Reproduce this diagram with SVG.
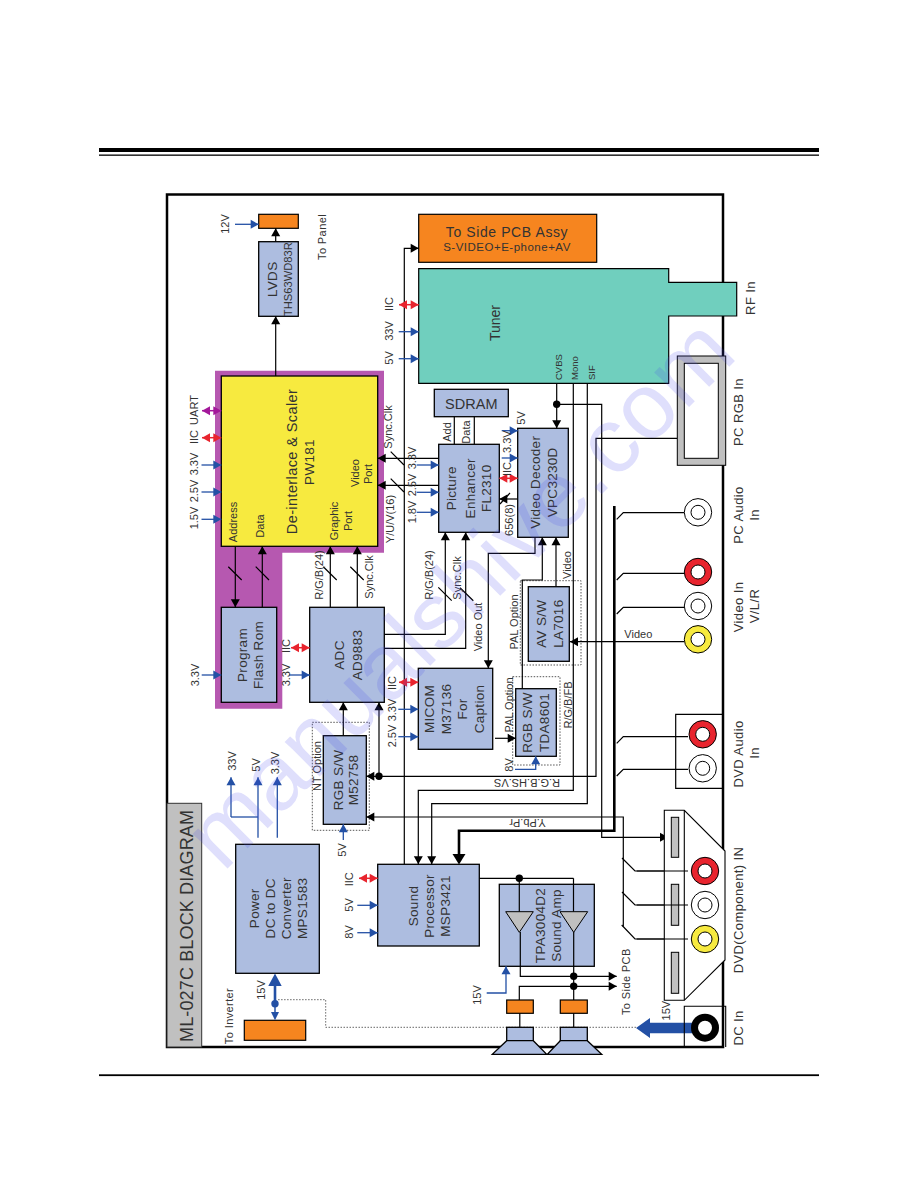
<svg xmlns="http://www.w3.org/2000/svg" width="918" height="1188" viewBox="0 0 918 1188">
<style>
text{font-family:"Liberation Sans",Arial,sans-serif;fill:#333;text-anchor:middle}
.s{font-size:11px}.m{font-size:13.5px;letter-spacing:.3px}.xs{font-size:9.5px}.l{font-size:13px;letter-spacing:.4px}
.st{text-anchor:start}
.box{fill:#adbde0;stroke:#000;stroke-width:1.3}
.or{fill:#f6851f;stroke:#000;stroke-width:1.2}
.w{fill:none;stroke:#000;stroke-width:1.2}
.a{marker-end:url(#k)}
.bl{fill:none;stroke:#2350a5;stroke-width:1.3;marker-end:url(#u)}
.re{fill:none;stroke:#e8242e;stroke-width:1.5;marker-end:url(#r);marker-start:url(#rs)}
.pu{fill:none;stroke:#a3189a;stroke-width:1.5;marker-end:url(#p);marker-start:url(#ps)}
.dash{fill:none;stroke:#555;stroke-width:1;stroke-dasharray:1.5 1.5}
.jo{stroke:#000;stroke-width:1}
.ho{fill:#fff;stroke:#000;stroke-width:1}
.gr{fill:#c0c0c0;stroke:#000;stroke-width:1}
</style>
<defs>
<marker id="k" markerUnits="userSpaceOnUse" markerWidth="10" markerHeight="10" refX="9" refY="5" orient="auto"><path d="M1,.5L9,5L1,9.5z" fill="#000"/></marker>
<marker id="u" markerUnits="userSpaceOnUse" markerWidth="10" markerHeight="10" refX="9" refY="5" orient="auto"><path d="M1,.5L9,5L1,9.5z" fill="#2350a5"/></marker>
<marker id="r" markerUnits="userSpaceOnUse" markerWidth="10" markerHeight="10" refX="9" refY="5" orient="auto"><path d="M1,.5L9,5L1,9.5z" fill="#e8242e"/></marker>
<marker id="rs" markerUnits="userSpaceOnUse" markerWidth="10" markerHeight="10" refX="1" refY="5" orient="auto"><path d="M9,.5L1,5L9,9.5z" fill="#e8242e"/></marker>
<marker id="p" markerUnits="userSpaceOnUse" markerWidth="10" markerHeight="10" refX="9" refY="5" orient="auto"><path d="M1,.5L9,5L1,9.5z" fill="#a3189a"/></marker>
<marker id="ps" markerUnits="userSpaceOnUse" markerWidth="10" markerHeight="10" refX="1" refY="5" orient="auto"><path d="M9,.5L1,5L9,9.5z" fill="#a3189a"/></marker>
</defs>
<rect width="918" height="1188" fill="#fff"/>
<g id="page-rules"><rect x="99" y="148" width="720" height="4"/><rect x="99" y="154.5" width="720" height="1.3"/><rect x="99" y="1074.3" width="720" height="1.8"/></g>
<rect id="frame" x="167" y="194.5" width="556" height="852.5" fill="none" stroke="#000" stroke-width="2.5"/>

<g id="title"><rect x="167" y="803.3" width="34.7" height="243.7" fill="#c0c0c0" stroke="#333" stroke-width="1"/><text transform="translate(192.7,926) rotate(-90)" font-size="18" textLength="232">ML-027C BLOCK DIAGRAM</text></g>

<g id="scaler"><path d="M215,370.7H384V552.7H282.3V708.7H215z" fill="#b658b0"/><rect x="221.3" y="376" width="156.4" height="170.3" fill="#f7ea3f" stroke="#000" stroke-width="1.3"/>
<text class="m" transform="translate(296.7,461.5) rotate(-90)" style="font-size:14.5px;letter-spacing:.4px">De-interlace &amp; Scaler</text><text class="m" transform="translate(314,462) rotate(-90)">PW181</text>
<text class="s" transform="translate(237.3,522) rotate(-90)">Address</text><text class="s" transform="translate(264.3,526) rotate(-90)">Data</text><text class="s" transform="translate(337.7,521) rotate(-90)">Graphic</text><text class="s" transform="translate(351.7,521) rotate(-90)">Port</text><text class="s" transform="translate(359.3,473) rotate(-90)">Video</text><text class="s" transform="translate(372,474) rotate(-90)">Port</text></g>
<g id="flash"><rect class="box" x="221.3" y="607.3" width="55.4" height="95"/><text class="m" transform="translate(247.3,655) rotate(-90)">Program</text><text class="m" transform="translate(263.3,655) rotate(-90)">Flash Rom</text></g>
<g id="adc"><rect class="box" x="309.7" y="607.3" width="74.6" height="95"/><text class="m" transform="translate(344.3,655) rotate(-90)">ADC</text><text class="m" transform="translate(361.7,655) rotate(-90)">AD9883</text></g>
<g id="lvds"><rect class="box" x="258.7" y="241.7" width="39.6" height="74.6"/><text class="m" transform="translate(277.3,279.3) rotate(-90)">LVDS</text><text transform="translate(292.3,279.2) rotate(-90)" font-size="11.2">THS63WD83R</text></g>
<g id="panel"><rect class="or" x="258.7" y="214.3" width="39.6" height="14"/><text class="s" transform="translate(326,237) rotate(-90)" style="letter-spacing:.4px">To Panel</text></g>
<g id="side-assy"><rect class="or" x="418.7" y="214.3" width="178" height="48"/><text x="507" y="236.7" font-size="14" letter-spacing=".6">To Side PCB Assy</text><text x="507" y="251" font-size="11.5" letter-spacing=".5">S-VIDEO+E-phone+AV</text></g>
<g id="tuner"><path d="M418.7,268.7H668.7V282.3H736.7V316H668.7V383.3H418.7z" fill="#70cfbe" stroke="#000" stroke-width="1.2"/><text transform="translate(500,323) rotate(-90)" font-size="14">Tuner</text><text class="xs st" transform="translate(561.7,380) rotate(-90)">CVBS</text><text class="xs st" transform="translate(578.3,380) rotate(-90)">Mono</text><text class="xs st" transform="translate(595,380) rotate(-90)">SIF</text></g>
<g id="sdram"><rect class="box" x="434.3" y="389.3" width="74" height="27.4"/><text x="471.3" y="409" font-size="14.5">SDRAM</text></g>
<g id="enhancer"><rect class="box" x="438.7" y="444.3" width="60.6" height="88"/><text class="m" transform="translate(456,488.3) rotate(-90)">Picture</text><text class="m" transform="translate(475,488.3) rotate(-90)">Enhancer</text><text class="m" transform="translate(490.7,488.3) rotate(-90)">FL2310</text></g>
<g id="decoder"><rect class="box" x="517.7" y="428.3" width="50.6" height="109"/><text class="m" transform="translate(540,482.3) rotate(-90)">Video Decoder</text><text class="m" transform="translate(556.7,482.3) rotate(-90)">VPC3230D</text></g>
<g id="micom"><rect class="box" x="418.3" y="668.3" width="74.4" height="81"/><text class="m" transform="translate(434,709) rotate(-90)">MICOM</text><text class="m" transform="translate(450.5,709) rotate(-90)">M37136</text><text class="m" transform="translate(467,709) rotate(-90)">For</text><text class="m" transform="translate(484,709) rotate(-90)">Caption</text></g>
<g id="m52758"><rect class="dash" x="312.3" y="722.3" width="57" height="108"/><rect class="box" x="323.3" y="735.7" width="43" height="88.6"/><text class="m" transform="translate(342.7,780) rotate(-90)">RGB S/W</text><text class="m" transform="translate(358.3,780) rotate(-90)">M52758</text><text class="s" transform="translate(320.7,766) rotate(-90)">NT Option</text></g>
<g id="power"><rect class="box" x="235.7" y="844.3" width="83.6" height="129"/><text class="m" transform="translate(259.3,908.3) rotate(-90)">Power</text><text class="m" transform="translate(275,908.3) rotate(-90)">DC to DC</text><text class="m" transform="translate(291,908.3) rotate(-90)">Converter</text><text class="m" transform="translate(306.7,908.3) rotate(-90)">MPS1583</text></g>
<g id="inverter"><rect class="or" x="244.3" y="1020.3" width="61.4" height="20"/><text class="s" transform="translate(233.3,1016) rotate(-90)" style="letter-spacing:.4px">To Inverter</text></g>
<g id="sound-processor"><rect class="box" x="377.7" y="864.3" width="101.6" height="81.7"/><text class="m" transform="translate(418.3,906) rotate(-90)">Sound</text><text class="m" transform="translate(434,906) rotate(-90)">Processor</text><text class="m" transform="translate(450,906) rotate(-90)">MSP3421</text></g>
<g id="amp"><rect class="box" x="499.3" y="884.3" width="95" height="82"/><text class="m" transform="translate(545,925.5) rotate(-90)">TPA3004D2</text><text class="m" transform="translate(560.7,925.5) rotate(-90)">Sound Amp</text></g>
<g id="tda8601"><rect class="dash" x="512.7" y="676.7" width="47.3" height="88.3"/><rect class="box" x="515.7" y="688.7" width="40.6" height="67.6"/><text class="m" transform="translate(531.7,722.5) rotate(-90)">RGB S/W</text><text class="m" transform="translate(549.3,722.5) rotate(-90)">TDA8601</text><text class="s" transform="translate(513.3,705) rotate(-90)">PAL Option</text><text class="s" transform="translate(571.7,705) rotate(-90)">R/G/B/FB</text></g>
<g id="la7016"><rect class="dash" x="520.3" y="580.7" width="60.7" height="84.3"/><rect class="box" x="528.3" y="586.7" width="41" height="74.6"/><text class="m" transform="translate(546,623.7) rotate(-90)">AV S/W</text><text class="m" transform="translate(563.3,623.7) rotate(-90)">LA7016</text><text class="s" transform="translate(517.7,622) rotate(-90)">PAL Option</text></g>

<g id="connectors">
<path class="w a" d="M275.7,376V316.3"/><path class="w a" d="M275.7,241.7V228.3"/>
<path class="w a" d="M235.3,546.3V607.3"/><path class="w a" d="M262.3,607.3V546.3"/><path class="w a" d="M330.3,607.3V546.3"/><path class="w a" d="M357.3,607.3V546.3"/>
<path class="w" d="M228.3,566.7L241.7,580M255.7,566.7L269,580M323.3,566.7L336.7,580M350.3,566.7L363.7,580M390.7,451.7L404,465M390.7,478.7L404,492M438.3,587.3L451.7,600.7M460,587.7L473.3,600.7M500,504L510,493"/>
<path class="w a" d="M438.7,458.3H377.7"/><path class="w a" d="M438.7,485.3H377.7"/>
<path class="w a" d="M404.3,864.3V248.3H418.7"/>
<path class="w" d="M454.3,416.7V444.3M474.3,416.7V444.3"/>
<path class="w a" d="M517.7,499H499.3"/>
<path class="w a" d="M384.3,634.3H445.3V532.3"/><path class="w a" d="M384.3,648.3H465.7V532.3"/>
<path class="w a" d="M535,537.3V553.3H488.3V668.3"/>
<path class="w a" d="M343.3,735.7V702.3"/><path class="w a" d="M379,776.3V702.3"/>
<path class="w a" d="M677.3,438.3H596V776.3H366.3"/>
<path class="w a" d="M623.3,926.7V817H366.3"/>
<path class="w" d="M622,858L635,871H688M622,892L635,905H688M621.7,925L635,939H688"/>
<path class="w a" d="M556.7,383.3V428.3"/><path class="w a" d="M556.7,404.3H601.7V837.3H668"/>
<path class="w a" d="M573.3,383.3V790.3H418.3V864.3"/><path class="w a" d="M587.3,383.3V803.7H431.7V864.3"/>
<path d="M614.3,506V830.7H459V855" fill="none" stroke="#000" stroke-width="2.6"/><path d="M452.5,854H465.5L459,864.5z"/>
<path class="w" d="M616.7,519.3L623.3,512.7H684.3M616.7,580L623.3,573.3H684.3M616.7,614L623.3,607.3H684.3M616.7,743.3L623.3,736.7H688M616.7,776L623.3,769.3H688"/>
<path class="w a" d="M684.3,641.7H570"/>
<path class="w a" d="M522.3,688.7V580H542.3V537.3"/><path class="w a" d="M556,586.7V537.3"/>
<path class="w a" d="M495,738.3H515.7"/>
<path class="w" d="M479.3,878.3H573.5M519.3,878.3V911.7M573.5,878.3V911.7"/>
<path class="w a" d="M520.3,932V976.3H616.7"/><path class="w a" d="M519.3,1000V986.3H616.7"/><path class="w" d="M573.7,932V1000M519.8,1013V1027.3M573.7,1013V1027.3"/>
<circle cx="556.7" cy="404.3" r="3.7"/><circle cx="379" cy="776.3" r="3.7"/><circle cx="519.3" cy="878.3" r="3.7"/><circle cx="573.7" cy="976.3" r="3.7"/><circle cx="573.7" cy="986.3" r="3.7"/>
<path class="bl" d="M235,224.3H258.7"/><path class="bl" d="M398.7,331.7H418.7"/><path class="bl" d="M398.7,358.7H418.7"/>
<path class="bl" d="M201.5,465H221.3"/><path class="bl" d="M201.5,492H221.3"/><path class="bl" d="M201.5,519.3H221.3"/><path class="bl" d="M201.7,675H221.3"/><path class="bl" d="M289,675H309.7"/>
<path class="bl" d="M416.7,465H438.7"/><path class="bl" d="M416.7,492.3H438.7"/><path class="bl" d="M416.7,512.3H438.7"/>
<path class="bl" d="M501.7,430.7H517.7"/><path class="bl" d="M501.7,458H517.7"/>
<path class="bl" d="M398.3,709.3H418.3"/><path class="bl" d="M398.3,736.7H418.3"/>
<path class="bl" d="M357.3,905.3H377.7"/><path class="bl" d="M357.3,932.7H377.7"/>
<path class="bl" d="M343.3,840V824.3"/><path class="bl" d="M515,769.3H535.7V756.3"/><path class="bl" d="M486.7,993H506V966.3"/>
<path class="bl" d="M231,817V777.3"/><path class="bl" d="M258,837.7V777.3"/><path class="bl" d="M277.3,837.7V777.3"/><path d="M231,817H258" fill="none" stroke="#2350a5" stroke-width="1.3"/>
<path class="re" d="M399,304.7H418.7"/><path class="re" d="M202,437.7H221.3"/><path class="re" d="M291,647.7H309.7"/><path class="re" d="M399,682.3H418.3"/><path class="re" d="M359,878.3H377.7"/><path class="re" d="M499.3,478.3H517.7"/>
<path class="pu" d="M202,410.7H221.3"/>
<path d="M275,986V1003" fill="none" stroke="#2350a5" stroke-width="2.6"/><path d="M268.3,986H281.7L275,973.5z" fill="#2350a5"/><circle cx="275" cy="1003.7" r="3.7" fill="#2350a5"/><path d="M275,1003.7V1012" fill="none" stroke="#2350a5" stroke-width="1.5"/><path d="M271,1012H279L275,1020.3z" fill="#2350a5"/>
<path d="M636,1028L650,1018V1022.7H692V1033.3H650V1038z" fill="#2350a5"/>
<path d="M636,1027.3H325.7V999.7H277" fill="none" stroke="#666" stroke-width="1" stroke-dasharray="1.5 1.5"/>
</g>

<g id="amp-triangles"><path class="gr" d="M505.7,911.7H533.3L519.3,932.3z"/><path class="gr" d="M560,911.7H587.7L573.7,932.3z"/></g>
<g id="speaker-1"><rect class="or" x="506.7" y="1000" width="26.6" height="13.3"/><rect class="box" x="506.7" y="1027.3" width="26.6" height="13.4"/><path class="box" d="M506.7,1040.7H533.3L546.7,1054.3H492.3z"/></g>
<g id="speaker-2"><rect class="or" x="560.3" y="1000" width="27" height="13.3"/><rect class="box" x="560.3" y="1027.3" width="27" height="13.4"/><path class="box" d="M560.3,1040.7H587.3L601.7,1054.3H547.3z"/></g>

<g id="pc-rgb"><rect class="gr" x="677.3" y="356" width="48.4" height="109.3"/><rect class="ho" x="684.3" y="363.3" width="34" height="95"/></g>
<g id="jacks">
<g id="pc-audio"><circle class="ho" cx="698" cy="512.3" r="13.7"/><circle class="ho" cx="698" cy="512.3" r="7"/></g>
<g id="video-in"><circle class="jo" cx="698" cy="572" r="13.7" fill="#e8242e"/><circle class="ho" cx="698" cy="572" r="7"/><circle class="ho" cx="698" cy="606" r="13.7"/><circle class="ho" cx="698" cy="606" r="7"/><circle class="jo" cx="698" cy="639.3" r="13.7" fill="#f7ea3f"/><circle class="ho" cx="698" cy="639.3" r="7"/></g>
<g id="dvd-audio"><path d="M723,714.3H675.7V788.3H723" fill="none" stroke="#000" stroke-width="1.2"/><circle class="jo" cx="702.7" cy="734.3" r="13.7" fill="#e8242e"/><circle class="ho" cx="702.7" cy="734.3" r="7"/><circle class="ho" cx="702.7" cy="768.3" r="13.7"/><circle class="ho" cx="702.7" cy="768.3" r="7"/></g>
<g id="dvd-component"><path d="M664.3,810.3H684.3L725,851V960L684.3,1000.3H664.3z" fill="#fff" stroke="#000" stroke-width="1.1"/><path d="M684.3,810.3V1000.3" stroke="#000" stroke-width="1.1"/><rect class="gr" x="671.3" y="817.3" width="7.4" height="40"/><rect class="gr" x="671.3" y="884.3" width="7.4" height="41"/><rect class="gr" x="671.3" y="952.3" width="7.4" height="41"/>
<path class="w" d="M636.7,871H688M636.7,905H688M636.7,939H688"/>
<circle class="jo" cx="705" cy="871" r="13.7" fill="#e8242e"/><circle class="ho" cx="705" cy="871" r="7"/><circle class="ho" cx="705" cy="905" r="13.7"/><circle class="ho" cx="705" cy="905" r="7"/><circle class="jo" cx="705" cy="939" r="13.7" fill="#f7ea3f"/><circle class="ho" cx="705" cy="939" r="7"/></g>
<g id="dc-in"><path d="M684.3,1047V1006.3H725.7V1047" fill="none" stroke="#000" stroke-width="1.1"/><circle cx="705" cy="1027.7" r="14"/><circle cx="705" cy="1027.7" r="7" fill="#fff"/></g>
</g>

<g id="labels">
<text class="s" transform="translate(229.3,224) rotate(-90)">12V</text>
<text class="s" transform="translate(393,304) rotate(-90)">IIC</text><text class="s" transform="translate(393,331) rotate(-90)">33V</text><text class="s" transform="translate(393,358) rotate(-90)">5V</text>
<text class="s" transform="translate(198,410) rotate(-90)">UART</text><text class="s" transform="translate(198,437) rotate(-90)">IIC</text><text class="s" transform="translate(198,464) rotate(-90)">3.3V</text><text class="s" transform="translate(198,491) rotate(-90)">2.5V</text><text class="s" transform="translate(198,518) rotate(-90)">1.5V</text>
<text class="s" transform="translate(199.3,675) rotate(-90)">3.3V</text><text class="s" transform="translate(290,646) rotate(-90)">IIC</text><text class="s" transform="translate(290,675) rotate(-90)">3.3V</text>
<text class="s" transform="translate(392,427) rotate(-90)">Sync.Clk</text><text class="s" transform="translate(394.3,519) rotate(-90)">Y/U/V(16)</text>
<text class="s" transform="translate(323.3,575) rotate(-90)">R/G/B(24)</text><text class="s" transform="translate(373.3,577) rotate(-90)">Sync.Clk</text>
<text class="s" transform="translate(416,458) rotate(-90)">3.3V</text><text class="s" transform="translate(416,485) rotate(-90)">2.5V</text><text class="s" transform="translate(416,512) rotate(-90)">1.8V</text>
<text class="s" transform="translate(450.7,432) rotate(-90)">Add</text><text class="s" transform="translate(470,432) rotate(-90)">Data</text>
<text class="s" transform="translate(525,418) rotate(-90)">5V</text><text class="s" transform="translate(510.7,441.7) rotate(-90)">3.3V</text><text class="s" transform="translate(510.7,469) rotate(-90)">IIC</text><text class="s" transform="translate(513.3,520) rotate(-90)">656(8)</text>
<text class="s" transform="translate(433.3,575) rotate(-90)">R/G/B(24)</text><text class="s" transform="translate(460.7,578) rotate(-90)">Sync.Clk</text><text class="s" transform="translate(481.7,627) rotate(-90)">Video Out</text>
<text class="s" transform="translate(570.7,565) rotate(-90)">Video</text><text class="s" x="638.3" y="637.7">Video</text>
<text class="s" transform="translate(396,683) rotate(-90)">IIC</text><text class="s" transform="translate(396,710) rotate(-90)">3.3V</text><text class="s" transform="translate(396,736) rotate(-90)">2.5V</text>
<text class="s" transform="translate(512.7,765) rotate(-90)">8V</text>
<text class="s" transform="translate(527,778.5) rotate(180)">R.G.B.HS.VS</text><text class="s" transform="translate(527.5,819.3) rotate(180)">Y.Pb.Pr</text>
<text class="s" transform="translate(236,761) rotate(-90)">33V</text><text class="s" transform="translate(260,765) rotate(-90)">5V</text><text class="s" transform="translate(279.3,763) rotate(-90)">3.3V</text>
<text class="s" transform="translate(345.7,850) rotate(-90)">5V</text>
<text class="s" transform="translate(352.7,879.3) rotate(-90)">IIC</text><text class="s" transform="translate(352.7,905) rotate(-90)">5V</text><text class="s" transform="translate(352.7,932) rotate(-90)">8V</text>
<text class="s" transform="translate(265.3,990) rotate(-90)">15V</text><text class="s" transform="translate(481,995) rotate(-90)">15V</text><text class="s" transform="translate(670,1010.7) rotate(-90)">15V</text>
<text class="s" transform="translate(630,981.7) rotate(-90)" style="letter-spacing:.4px">To Side PCB</text>
<text class="l" transform="translate(755,298) rotate(-90)">RF In</text><text class="l" transform="translate(743.3,412) rotate(-90)">PC RGB In</text><text class="l" transform="translate(743,515) rotate(-90)">PC Audio</text><text class="l" transform="translate(759.3,515) rotate(-90)">In</text><text class="l" transform="translate(743,607) rotate(-90)">Video In</text><text class="l" transform="translate(759.3,606) rotate(-90)">V/L/R</text><text class="l" transform="translate(743,754) rotate(-90)">DVD Audio</text><text class="l" transform="translate(759.3,753) rotate(-90)">In</text><text class="l" transform="translate(743.3,910) rotate(-90)">DVD(Component) IN</text><text class="l" transform="translate(743.3,1028) rotate(-90)">DC In</text>
</g>
<text transform="translate(223,873) rotate(-45)" font-size="93" textLength="730" style="text-anchor:start;fill:#5050f0;fill-opacity:.18">manualshive.com</text>
</svg>
